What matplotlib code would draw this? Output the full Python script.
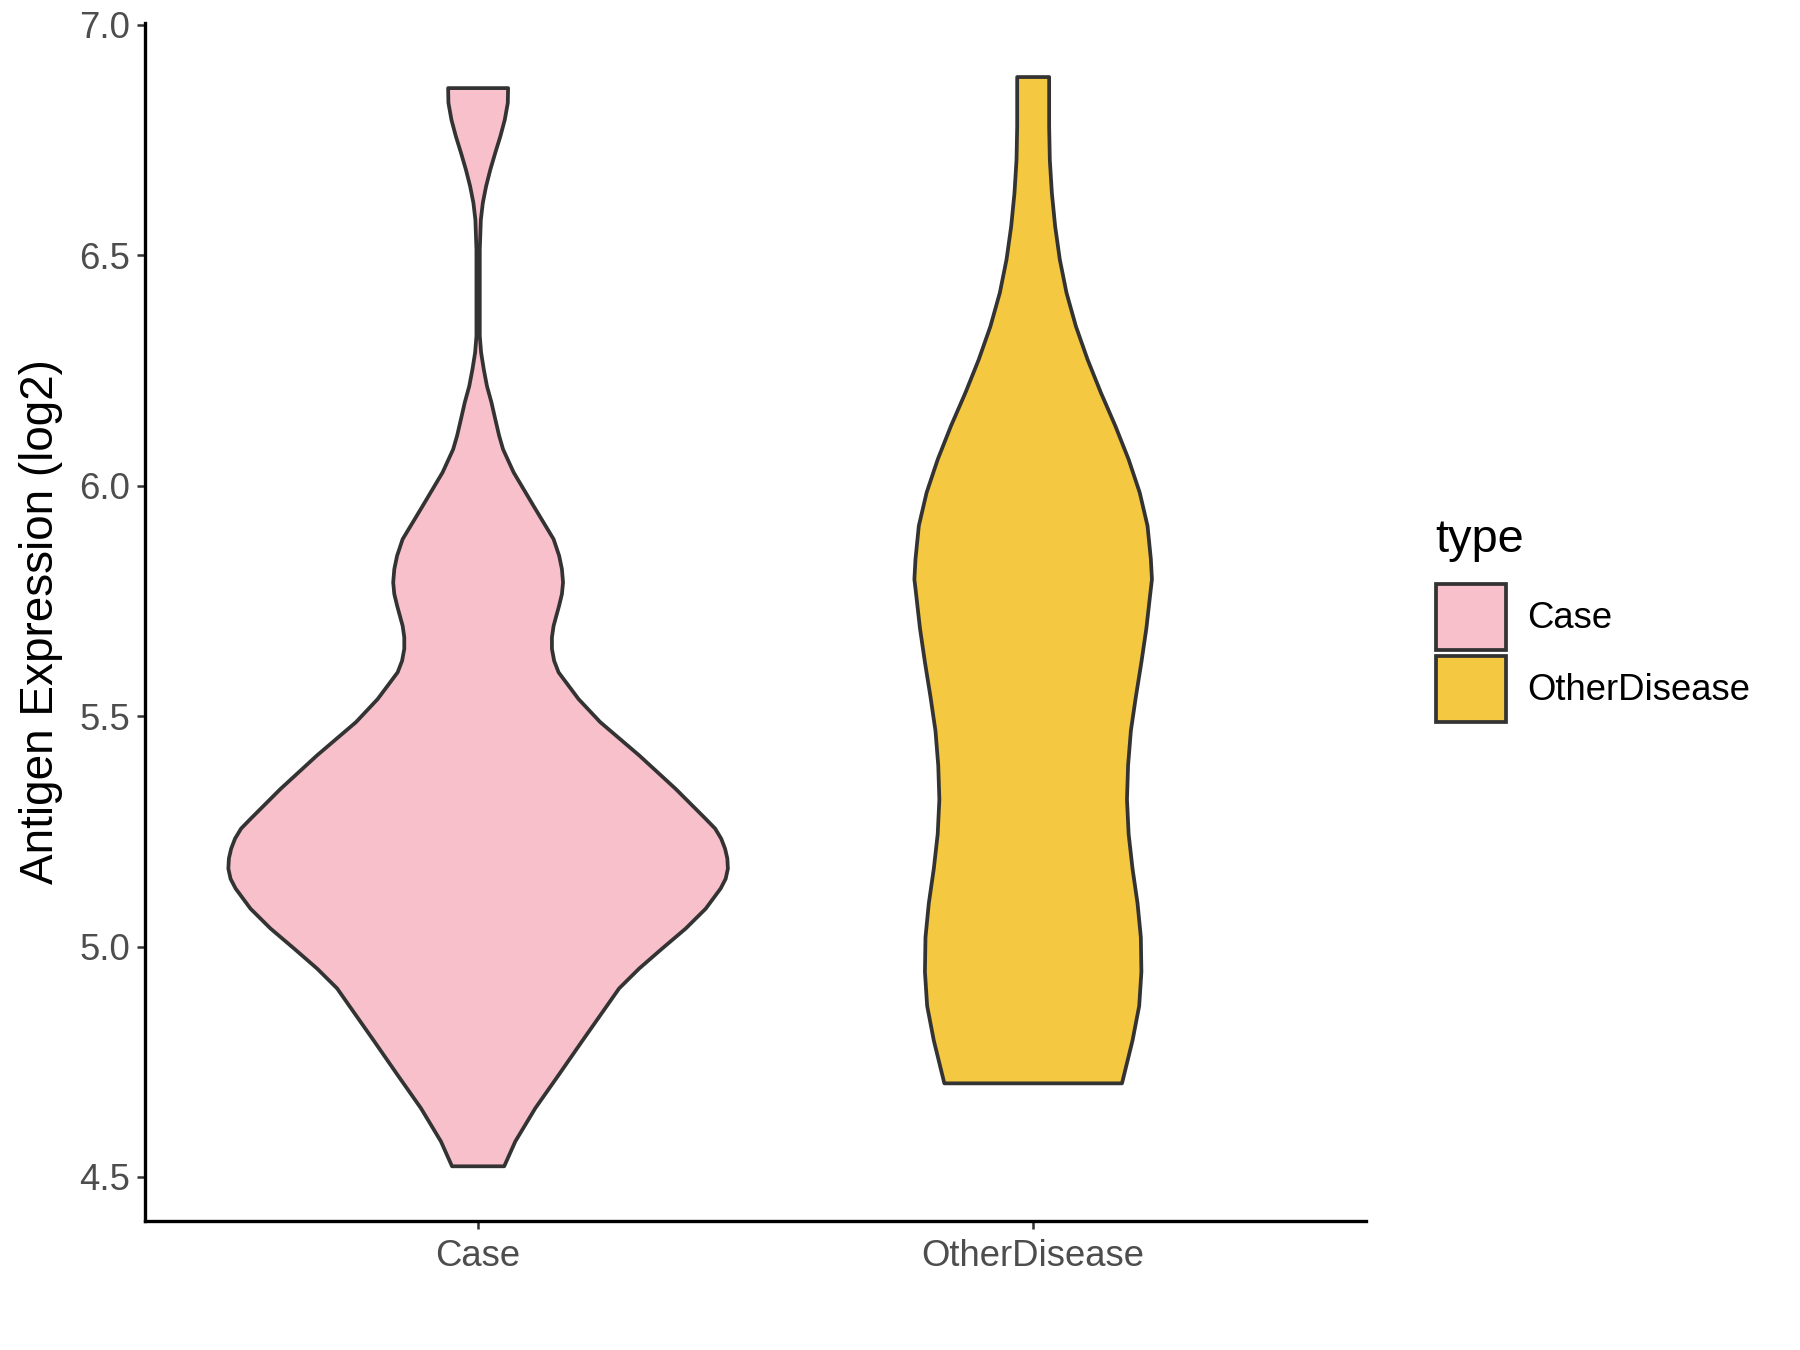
import numpy as np
import matplotlib.pyplot as plt
from matplotlib.patches import Patch

plt.rcParams['font.family'] = ['Liberation Sans', 'DejaVu Sans']

groups = ['Case', 'OtherDisease']
colors = ['#F7C0CB', '#F5C842']

# violin outlines: expression (log2) and half width
case_y = [6.863, 6.831, 6.794, 6.758, 6.723, 6.686, 6.650, 6.614, 6.577, 6.512,
          6.404, 6.325, 6.289, 6.252, 6.216, 6.181, 6.144, 6.108, 6.079, 6.029,
          5.956, 5.884, 5.848, 5.819, 5.790, 5.765, 5.740, 5.696, 5.671, 5.646,
          5.620, 5.595, 5.537, 5.487, 5.415, 5.342, 5.277, 5.256, 5.234, 5.212,
          5.191, 5.169, 5.147, 5.126, 5.082, 5.039, 4.996, 4.952, 4.909, 4.866,
          4.794, 4.721, 4.649, 4.577, 4.523]
case_w = [0.054, 0.0535, 0.048, 0.040, 0.031, 0.022, 0.0144, 0.0085, 0.0049, 0.003,
          0.003, 0.003, 0.0054, 0.0103, 0.016, 0.024, 0.031, 0.038, 0.045, 0.064,
          0.100, 0.136, 0.146, 0.151, 0.153, 0.151, 0.146, 0.136, 0.133, 0.133,
          0.137, 0.145, 0.181, 0.220, 0.290, 0.356, 0.410, 0.427, 0.438, 0.445,
          0.449, 0.450, 0.446, 0.437, 0.410, 0.374, 0.332, 0.290, 0.254, 0.229,
          0.187, 0.145, 0.103, 0.067, 0.047]

other_y = [6.887, 6.780, 6.707, 6.635, 6.563, 6.491, 6.419, 6.346, 6.274, 6.202,
           6.130, 6.057, 5.985, 5.913, 5.841, 5.797, 5.766, 5.691, 5.617, 5.542,
           5.468, 5.393, 5.319, 5.244, 5.169, 5.094, 5.020, 4.945, 4.871, 4.796,
           4.703]
other_w = [0.0288, 0.0288, 0.030, 0.0337, 0.0396, 0.048, 0.060, 0.077, 0.098, 0.122,
           0.148, 0.172, 0.192, 0.206, 0.212, 0.214, 0.211, 0.204, 0.195, 0.185,
           0.176, 0.171, 0.169, 0.172, 0.179, 0.188, 0.194, 0.195, 0.191, 0.179,
           0.160]

profiles = [(case_y, case_w), (other_y, other_w)]

fig = plt.figure(figsize=(12, 9), dpi=150)
ax = fig.add_axes([0.0806, 0.0958, 0.6784, 0.8874])

for i, (ys, ws) in enumerate(profiles):
    x = i + 1
    ys = np.array(ys)
    ws = np.array(ws)
    xs = np.concatenate([x + ws, (x - ws)[::-1]])
    yy = np.concatenate([ys, ys[::-1]])
    ax.fill(xs, yy, facecolor=colors[i], edgecolor='#333333', linewidth=1.8,
            joinstyle='round')

ax.set_xlim(0.4, 2.6)
ax.set_ylim(4.405, 7.005)
ax.set_xticks([1, 2])
ax.set_xticklabels(groups)
ax.set_yticks([4.5, 5.0, 5.5, 6.0, 6.5, 7.0])
ax.set_yticklabels(['4.5', '5.0', '5.5', '6.0', '6.5', '7.0'])
ax.tick_params(length=4, width=1.2, color='#333333', labelcolor='#4D4D4D',
               labelsize=17.5, pad=3)
ax.tick_params(axis='x', pad=5)
for side in ['top', 'right']:
    ax.spines[side].set_visible(False)
for side in ['left', 'bottom']:
    ax.spines[side].set_linewidth(1.6)
    ax.spines[side].set_color('black')

ax.set_ylabel('Antigen Expression (log2)', fontsize=22, labelpad=8)

handles = [Patch(facecolor=c, edgecolor='#333333', linewidth=1.8) for c in colors]
leg = fig.legend(handles, groups, loc='upper left',
                 bbox_to_anchor=(0.798, 0.5674), frameon=False, fontsize=17.5,
                 handlelength=1.9, handleheight=2.4, borderpad=0,
                 labelspacing=0.17, handletextpad=0.6, borderaxespad=0)
fig.text(0.7975, 0.600, 'type', fontsize=22.5, ha='left', va='center')

fig.savefig('out.png', dpi=150)
